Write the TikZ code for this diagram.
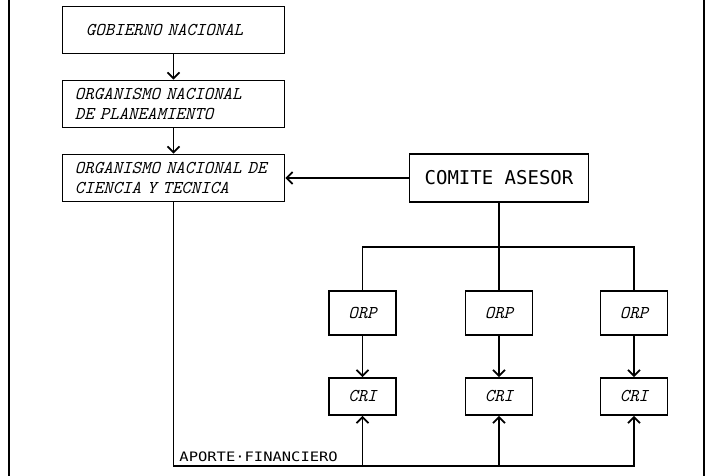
\documentclass[tikz,border=0pt]{standalone}
\usepackage{fontspec}
\newfontfamily\rotfont{DejaVu Sans Mono}
\usepackage{tikz}
\usetikzlibrary{positioning, arrows.meta}

\begin{document}
\begin{tikzpicture}[x=0.5pt, y=0.5pt,
    caja/.style={draw, line width=0.9pt, text width=98.5pt, inner xsep=6.25pt,
      minimum height=23.5pt, align=left, font=\fontsize{9}{10}\selectfont\ttfamily\itshape},
    chica/.style={draw, line width=0.9pt, minimum width=33.5pt, inner sep=1pt,
      font=\fontsize{9}{10}\selectfont\ttfamily\itshape},
    flecha/.style={line width=0.85pt, -{Straight Barb[length=3pt, width=6pt]}},
    linea/.style={line width=0.85pt},
    rotulo/.style={font=\fontsize{6.5}{7}\selectfont\rotfont, inner sep=0pt, xscale=1.19}]
        \useasboundingbox (0,0) rectangle (709,476);
        % Frame sides
        \draw[line width=1.4pt] (9,0) -- (9,476);
        \draw[line width=1.4pt] (704,0) -- (704,476);
        % National chain
        \node[caja] (gob) at (173.5,446) {\hspace*{5.5pt}GOBIERNO NACIONAL};
        \node[caja] (onp) at (173.5,372) {ORGANISMO NACIONAL\\DE PLANEAMIENTO};
        \node[caja] (oncyt) at (173.5,298) {ORGANISMO NACIONAL DE\\CIENCIA Y TECNICA};
        \draw[flecha] (gob) -- (onp);
        \draw[flecha] (onp) -- (oncyt);
        % Advisory committee
        \node[draw, line width=0.9pt, minimum width=89.5pt, minimum height=24pt,
          font=\fontsize{9.5}{10}\selectfont\rotfont] (comite) at (499,298) {COMITE ASESOR};
        \draw[flecha] (comite) -- (oncyt);
        \coordinate (reparto) at (499,229);
        \coordinate (fondo) at (634,10);
        % Regional columns: ORP over CRI
        \foreach \i/\x in {1/362.5, 2/499, 3/634} {
          \node[chica, minimum height=22pt] (orp\i) at (\x,163) {ORP};
          \node[chica, minimum height=18.5pt] (cri\i) at (\x,79.5) {CRI};
          \draw[flecha] (orp\i) -- (cri\i);
        }
        \draw[linea] (comite) -- (reparto);
        \draw[linea] (orp1) |- (reparto) -| (orp3);
        \draw[linea] (orp2) -- (reparto);
        % Funding line
        \draw[flecha] (oncyt) |- (fondo) -- (cri3);
        \draw[flecha] (cri1 |- fondo) -- (cri1);
        \draw[flecha] (cri2 |- fondo) -- (cri2);
        \node[rotulo, anchor=base west] (aporte) at (179,14) {APORTE·FINANCIERO};
      \end{tikzpicture}
\end{document}
